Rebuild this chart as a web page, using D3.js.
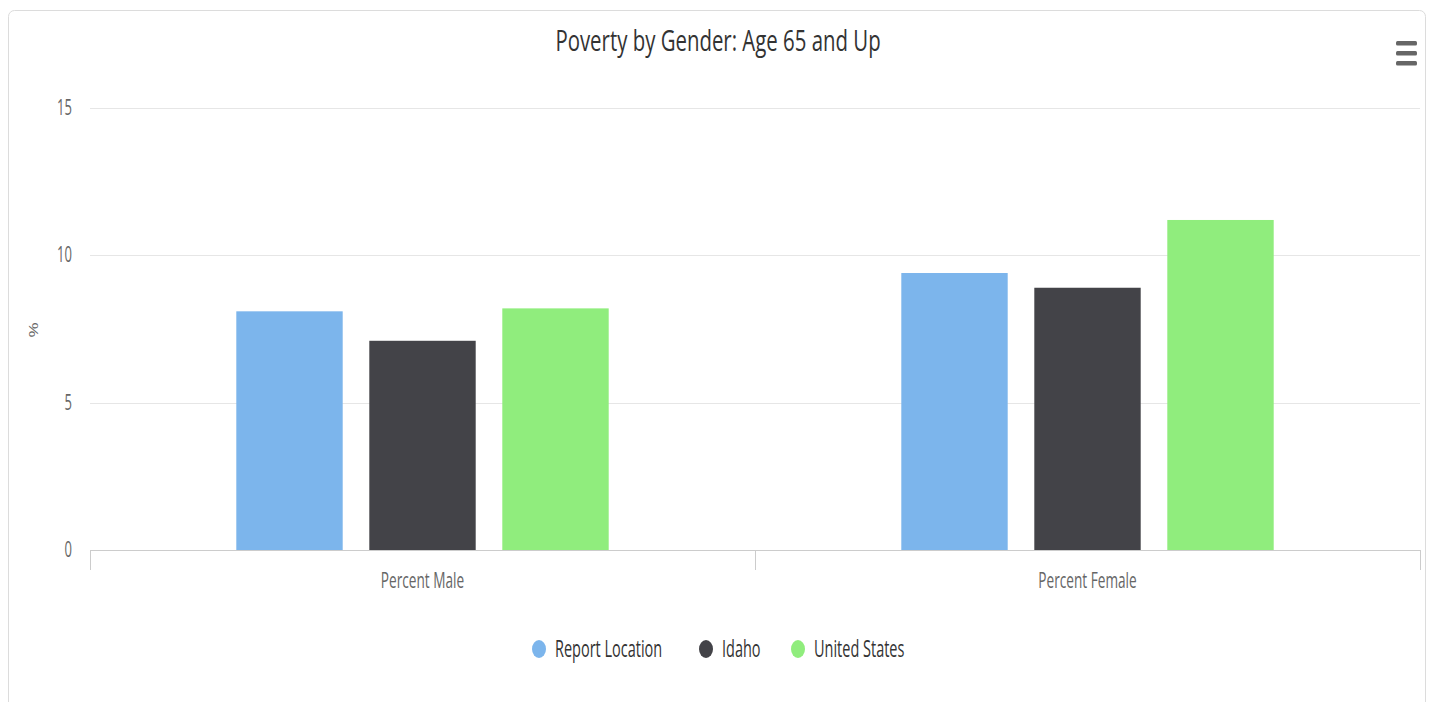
<!DOCTYPE html>
<html>
<head>
<meta charset="utf-8">
<script src="https://cdn.jsdelivr.net/npm/d3@7/dist/d3.min.js"></script>
<style>
  html, body { margin: 0; padding: 0; background: #fff; }
  svg { display: block; }
  text { font-family: "Open Sans", "Noto Sans", sans-serif; }
</style>
</head>
<body>
<svg id="chart" width="1435" height="702"></svg>
<script>
const title = "Poverty by Gender: Age 65 and Up";
const categories = ["Percent Male", "Percent Female"];
const seriesNames = ["Report Location", "Idaho", "United States"];
const seriesColors = ["#7cb5ec", "#434348", "#90ed7d"];
const reportLocation = [8.1, 9.4];
const idaho = [7.1, 8.9];
const unitedStates = [8.2, 11.2];
const yTicks = [0, 5, 10, 15];
const yTitle = "%";

const seriesValues = [reportLocation, idaho, unitedStates];
const SX = 0.62; // horizontal compression of the glyphs

const svg = d3.select("#chart");
const plot = { left: 90, right: 1420, top: 108, bottom: 550 };

// card
svg.append("rect")
  .attr("x", 8.5).attr("y", 10.5)
  .attr("width", 1417).attr("height", 720)
  .attr("rx", 6)
  .attr("fill", "#fff").attr("stroke", "#dcdcdc").attr("stroke-width", 1);

function ctext(g, x, y, str, size, color, anchor, sx) {
  return g.append("text")
    .attr("transform", `translate(${x},${y}) scale(${sx || SX},1)`)
    .attr("text-anchor", anchor || "middle")
    .attr("font-size", size)
    .attr("fill", color)
    .text(str);
}

// title
ctext(svg, 718, 51, title, 30, "#333333", "middle", 0.68);

// menu icon
const menu = svg.append("g");
[0, 10, 20].forEach(d => {
  menu.append("rect").attr("x", 1396).attr("y", 41 + d).attr("width", 21).attr("height", 4.5)
    .attr("rx", 1.5).attr("fill", "#666666");
});

const x0 = d3.scaleBand().domain(categories).range([plot.left, plot.right]).paddingInner(0).paddingOuter(0);
const x1 = d3.scaleBand().domain(seriesNames)
  .range([x0.bandwidth() * 0.2, x0.bandwidth() * 0.8])
  .paddingInner(0.2).paddingOuter(0.1);
const y = d3.scaleLinear().domain([0, 15]).range([plot.bottom, plot.top]);

// gridlines
svg.append("g").selectAll("line").data(yTicks.filter(t => t > 0)).join("line")
  .attr("x1", plot.left).attr("x2", plot.right)
  .attr("y1", d => Math.round(y(d)) + 0.5).attr("y2", d => Math.round(y(d)) + 0.5)
  .attr("stroke", "#e6e6e6").attr("stroke-width", 1);

// y labels
const yl = svg.append("g");
yTicks.forEach(t => ctext(yl, 72, y(t) + 7, String(t), 21, "#666666", "end"));

// y title
svg.append("text")
  .attr("transform", `translate(38,330) rotate(-90) scale(1,${SX})`)
  .attr("text-anchor", "middle").attr("font-size", 19).attr("fill", "#666666")
  .text(yTitle);

// bars
const groups = svg.append("g").selectAll("g").data(categories).join("g")
  .attr("transform", d => `translate(${x0(d)},0)`);
groups.selectAll("rect")
  .data((c, ci) => seriesNames.map((s, si) => ({ s, v: seriesValues[si][ci], color: seriesColors[si] })))
  .join("rect")
  .attr("x", d => x1(d.s))
  .attr("width", x1.bandwidth())
  .attr("y", d => y(d.v))
  .attr("height", d => y(0) - y(d.v))
  .attr("fill", d => d.color);

// x axis
const xa = svg.append("g");
xa.append("line").attr("x1", plot.left).attr("x2", plot.right)
  .attr("y1", plot.bottom + 0.5).attr("y2", plot.bottom + 0.5)
  .attr("stroke", "#cccccc");
const tickPos = categories.map(c => x0(c)).concat([x0(categories[categories.length - 1]) + x0.bandwidth()]);
xa.selectAll("line.tick").data(tickPos).join("line").attr("class", "tick")
  .attr("x1", d => Math.round(d) + 0.5).attr("x2", d => Math.round(d) + 0.5)
  .attr("y1", plot.bottom).attr("y2", plot.bottom + 20)
  .attr("stroke", "#cccccc");
categories.forEach(c => ctext(xa, x0(c) + x0.bandwidth() / 2, 588, c, 22, "#666666"));

// legend
const legend = svg.append("g");
const legendX = [539, 706, 798];
seriesNames.forEach((s, i) => {
  legend.append("ellipse").attr("cx", legendX[i]).attr("cy", 649).attr("rx", 7).attr("ry", 9)
    .attr("fill", seriesColors[i]);
  ctext(legend, legendX[i] + 16, 657, s, 23, "#333333", "start", 0.63);
});
</script>
</body>
</html>
